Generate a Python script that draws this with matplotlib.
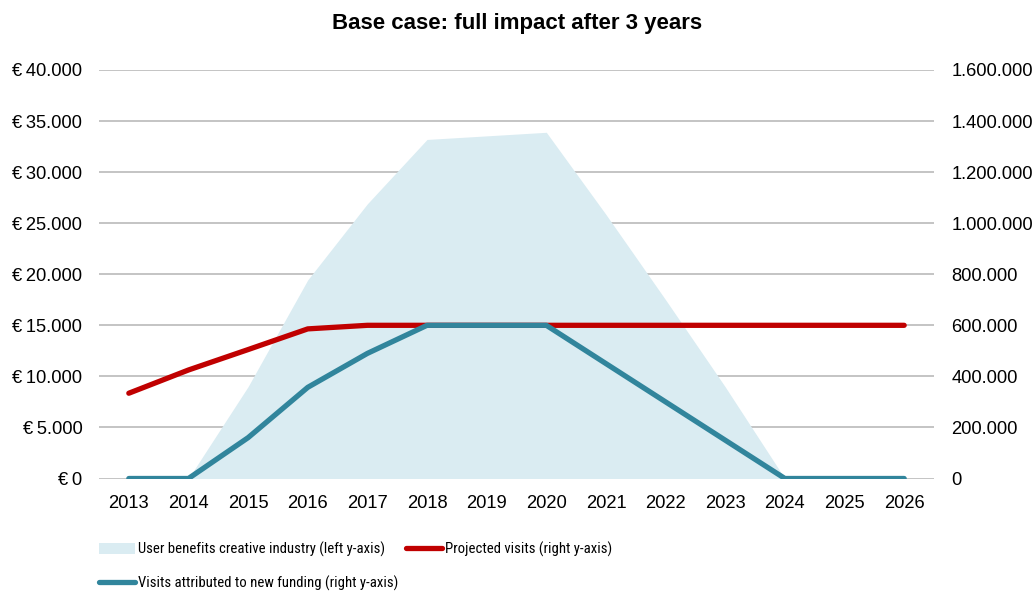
import matplotlib
matplotlib.use("Agg")
import matplotlib.pyplot as plt
from matplotlib import font_manager
from matplotlib.ticker import FuncFormatter, MultipleLocator
from matplotlib.patches import Patch

plt.rcParams['font.family'] = ['Liberation Sans', 'DejaVu Sans']

years = [2013, 2014, 2015, 2016, 2017, 2018, 2019, 2020, 2021, 2022, 2023, 2024, 2025, 2026]
user_benefits = [0, 0, 9000, 19450, 26900, 33200, 33550, 33900, 25850, 17500, 8970, 0, 0, 0]
projected_visits = [334000, 425000, 505000, 586000, 600000, 600000, 600000, 600000, 600000, 600000, 600000, 600000, 600000, 600000]
attributed_visits = [0, 0, 160000, 357000, 490000, 600000, 600000, 600000, 450000, 300000, 150000, 0, 0, 0]

title = "Base case: full impact after 3 years"
label_area = "User benefits creative industry (left y-axis)"
label_proj = "Projected visits (right y-axis)"
label_attr = "Visits attributed to new funding (right y-axis)"

c_area = "#daecf2"
c_red = "#c00000"
c_teal = "#31859c"
c_grid = "#bfbfbf"

# pick a narrow font for the legend if one is installed
available = {f.name for f in font_manager.fontManager.ttflist}
narrow = None
for cand in ['Liberation Sans Narrow', 'Arial Narrow', 'Roboto Condensed', 'Open Sans Condensed']:
    if cand in available:
        narrow = cand
        break
if narrow is not None:
    leg_size = 10.6
    leg_prop = {'family': [narrow, 'DejaVu Sans'], 'size': leg_size}
else:
    leg_size = 9.8
    leg_prop = {'family': ['Liberation Sans', 'DejaVu Sans'], 'size': leg_size}
fpx = leg_size * 100 / 72.0

fig = plt.figure(figsize=(10.35, 5.92), dpi=100)
ax = fig.add_axes([99/1035, 1 - 478.5/592, (934-99)/1035, (478.5-70)/592])
ax2 = ax.twinx()

ax.fill_between(years, user_benefits, 0, color=c_area, linewidth=0, zorder=2)
ax.set_ylim(0, 40000)
ax.set_xlim(2012.5, 2026.5)
ax.yaxis.set_major_locator(MultipleLocator(5000))
ax.yaxis.set_major_formatter(FuncFormatter(lambda v, p: "€\u2009" + f"{int(v):,}".replace(",", ".")))
ax.grid(axis='y', color=c_grid, linewidth=1.3, zorder=1)
ax.set_axisbelow(True)
ax.set_xticks(years)
ax.set_xticklabels([str(y) for y in years])

l1, = ax2.plot(years, projected_visits, color=c_red, linewidth=3.8, solid_capstyle='round', zorder=3)
l2, = ax2.plot(years, attributed_visits, color=c_teal, linewidth=3.8, solid_capstyle='round', zorder=3)
ax2.set_ylim(0, 1600000)
ax2.yaxis.set_major_locator(MultipleLocator(200000))
ax2.yaxis.set_major_formatter(FuncFormatter(lambda v, p: f"{int(v):,}".replace(",", ".")))

for a in (ax, ax2):
    for s in a.spines.values():
        s.set_visible(False)
    a.tick_params(length=0, labelsize=13.2, colors="#000000")
ax.tick_params(axis='y', pad=12)
ax2.tick_params(axis='y', pad=12.5)
ax.tick_params(axis='x', pad=12)

fig.suptitle(title, fontsize=16, fontweight='bold', y=1 - 24/592, va='center')

h_area = Patch(facecolor=c_area, edgecolor='none')
leg = fig.legend([h_area, l2, l1], [label_area, label_attr, label_proj], ncol=2,
                 loc='upper left', bbox_to_anchor=(99/1035, 1 - 541.5/592), frameon=False,
                 prop=leg_prop,
                 handlelength=36/fpx, handleheight=10.6/fpx, handletextpad=0.22,
                 columnspacing=0.5, labelspacing=1.26, borderaxespad=0, borderpad=0)

fig.savefig("out.png", dpi=100)
